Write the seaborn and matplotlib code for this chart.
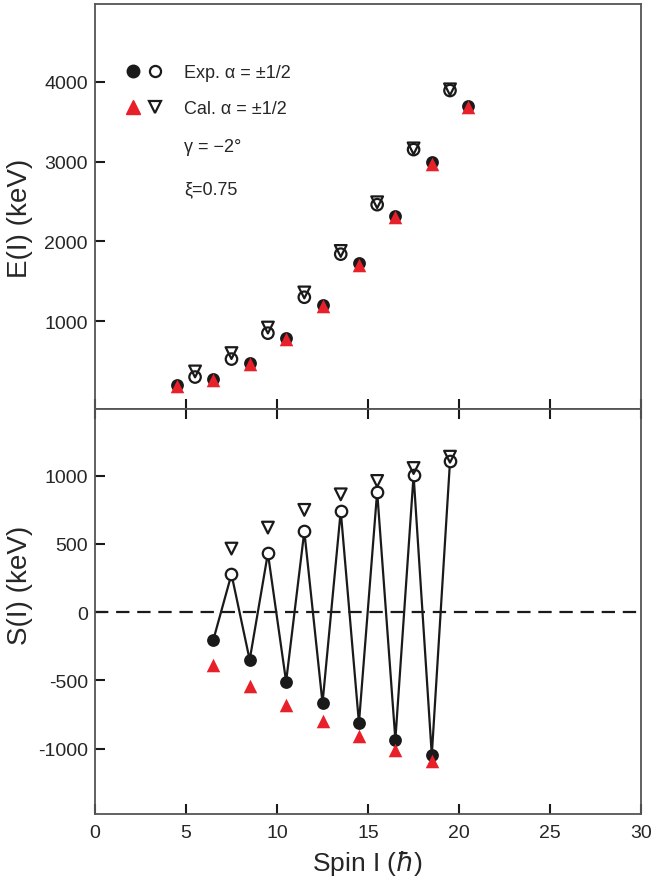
import matplotlib
matplotlib.use("Agg")
import matplotlib.pyplot as plt
from matplotlib.lines import Line2D
from matplotlib.legend_handler import HandlerTuple
import seaborn as sns
import numpy as np

# ---------------- data ----------------
# E(I) panel
spin_neg = [4.5, 6.5, 8.5, 10.5, 12.5, 14.5, 16.5, 18.5, 20.5]
e_exp_neg = [195, 280, 480, 790, 1205, 1725, 2320, 2990, 3700]
e_cal_neg = [185, 265, 465, 780, 1195, 1710, 2300, 2965, 3690]
spin_pos = [5.5, 7.5, 9.5, 11.5, 13.5, 15.5, 17.5, 19.5]
e_exp_pos = [300, 525, 850, 1300, 1840, 2460, 3150, 3890]
e_cal_pos = [370, 600, 920, 1360, 1880, 2490, 3165, 3905]

# S(I) panel
s_spin_neg = [6.5, 8.5, 10.5, 12.5, 14.5, 16.5, 18.5]
s_exp_neg = [-205, -350, -510, -667, -813, -935, -1048]
s_cal_neg = [-388, -540, -679, -801, -906, -1009, -1089]
s_spin_pos = [7.5, 9.5, 11.5, 13.5, 15.5, 17.5, 19.5]
s_exp_pos = [278, 432, 593, 742, 884, 1004, 1106]
s_cal_pos = [466, 620, 750, 864, 962, 1057, 1140]

x_ticks = [0, 5, 10, 15, 20, 25, 30]
e_ticks = [1000, 2000, 3000, 4000]
s_ticks = [-1000, -500, 0, 500, 1000]

RED = "#e8202a"
BLACK = "#1a1a1a"

sns.set_style("ticks")
plt.rcParams["font.family"] = ["Liberation Sans", "DejaVu Sans"]

fig = plt.figure(figsize=(6.59, 8.87), dpi=100)
ax1 = fig.add_axes([0.144, 0.5378, 0.829, 0.4566])
ax2 = fig.add_axes([0.144, 0.0812, 0.829, 0.4566])

S_CIRC = 85
S_TRI = 95
LW = 1.6

# ---- top panel ----
sns.scatterplot(x=spin_neg, y=e_exp_neg, marker="o", s=S_CIRC, color=BLACK,
                edgecolor=BLACK, linewidth=0, ax=ax1, zorder=3)
sns.scatterplot(x=spin_neg, y=e_cal_neg, marker="^", s=S_TRI, color=RED,
                edgecolor=RED, linewidth=0, ax=ax1, zorder=4)
sns.scatterplot(x=spin_pos, y=e_exp_pos, marker="o", s=S_CIRC * 0.8,
                facecolor="none", edgecolor=BLACK, linewidth=LW, ax=ax1, zorder=3)
sns.scatterplot(x=spin_pos, y=e_cal_pos, marker="v", s=S_TRI * 0.75,
                facecolor="none", edgecolor=BLACK, linewidth=LW, ax=ax1, zorder=3)

# ---- bottom panel ----
ax2.axhline(0, color=BLACK, lw=1.6, ls=(0, (6, 3.5)), zorder=1)
order = sorted(zip(s_spin_neg + s_spin_pos, s_exp_neg + s_exp_pos))
sns.lineplot(x=[o[0] for o in order], y=[o[1] for o in order], color=BLACK,
             lw=1.6, sort=False, ax=ax2, zorder=2)
sns.scatterplot(x=s_spin_neg, y=s_exp_neg, marker="o", s=S_CIRC, color=BLACK,
                edgecolor=BLACK, linewidth=0, ax=ax2, zorder=3)
sns.scatterplot(x=s_spin_neg, y=s_cal_neg, marker="^", s=S_TRI, color=RED,
                edgecolor=RED, linewidth=0, ax=ax2, zorder=4)
sns.scatterplot(x=s_spin_pos, y=s_exp_pos, marker="o", s=S_CIRC * 0.8,
                facecolor="white", edgecolor=BLACK, linewidth=LW, ax=ax2, zorder=3)
sns.scatterplot(x=s_spin_pos, y=s_cal_pos, marker="v", s=S_TRI * 0.75,
                facecolor="none", edgecolor=BLACK, linewidth=LW, ax=ax2, zorder=3)

# ---- axes styling ----
for ax in (ax1, ax2):
    ax.set_xlim(0, 30)
    ax.set_xticks(x_ticks)
    for sp in ax.spines.values():
        sp.set_visible(True)
        sp.set_color("#555555")
        sp.set_linewidth(1.3)
    ax.tick_params(axis="both", direction="in", length=7, width=1.5,
                   color=BLACK, labelsize=14, pad=5)
    ax.tick_params(axis="y", right=False)

ax1.set_ylim(-100, 4975)
ax1.set_yticks(e_ticks)
ax1.tick_params(axis="x", bottom=True, top=False, labelbottom=False)
ax1.set_ylabel("E(I) (keV)", fontsize=20)
ax1.yaxis.set_label_coords(-0.1136, 0.474)

ax2.set_ylim(-1480, 1490)
ax2.set_yticks(s_ticks)
ax2.set_yticklabels([str(t) for t in s_ticks])
ax2.tick_params(axis="x", bottom=True, top=True, labelbottom=True, pad=7)
ax2.set_ylabel("S(I) (keV)", fontsize=20)
ax2.yaxis.set_label_coords(-0.1136, 0.568)
ax2.set_xlabel(r"Spin I ($\hbar$)", fontsize=19, labelpad=5)

# ---- legend ----
h1 = (Line2D([], [], ls="none", marker="o", ms=9, color=BLACK, mec=BLACK),
      Line2D([], [], ls="none", marker="o", ms=8, mfc="none", mec=BLACK, mew=LW))
h2 = (Line2D([], [], ls="none", marker="^", ms=10, color=RED, mec=RED),
      Line2D([], [], ls="none", marker="v", ms=8.5, mfc="none", mec=BLACK, mew=LW))
leg = ax1.legend([h1, h2], ["Exp. α = ±1/2", "Cal. α = ±1/2"],
                 handler_map={tuple: HandlerTuple(ndivide=None, pad=0.34)},
                 numpoints=1, frameon=False, fontsize=13, loc="upper left",
                 bbox_to_anchor=(0.055, 0.851), borderpad=0, borderaxespad=0,
                 handlelength=2.1, handletextpad=1.18, labelspacing=1.04)
ax1.text(0.163, 0.649, "γ = −2°", transform=ax1.transAxes, fontsize=13,
         va="center", ha="left")
ax1.text(0.163, 0.543, "ξ=0.75", transform=ax1.transAxes, fontsize=13,
         va="center", ha="left")

fig.savefig("out.png", dpi=100)
